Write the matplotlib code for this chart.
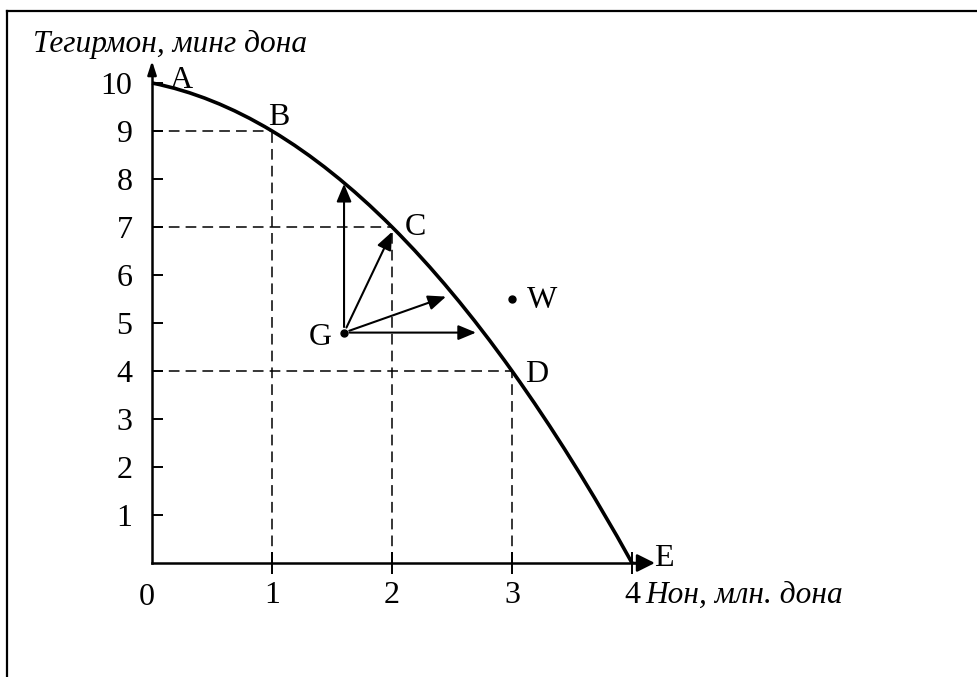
"""Production possibilities frontier: mill vs bread."""

import matplotlib

matplotlib.use("Agg")
import matplotlib.pyplot as plt
from matplotlib.lines import Line2D
from matplotlib.patches import PathPatch
from matplotlib.path import Path

# frontier points A..E (x = Нон, y = Тегирмон)
point_names = ["A", "B", "C", "D", "E"]
bread = [0, 1, 2, 3, 4]
mills = [10, 9, 7, 4, 0]
# curve slope at each frontier point
slopes = [-0.5, -1.5, -2.5, -3.5, -4.5]

# inefficient point G and unattainable point W
g_point = (1.6, 4.8)
w_point = (3.0, 5.5)
# where the arrows from G end
arrow_tips = [(1.6, 7.9), (2.0, 6.9), (2.45, 5.55), (2.7, 4.8)]

x_ticks = [1, 2, 3, 4]
y_ticks = [1, 2, 3, 4, 5, 6, 7, 8, 9, 10]

y_title = "Тегирмон, минг дона"
x_title = "Нон, млн. дона"

SERIF = "Liberation Serif"
NUM_SIZE = 23
LETTER_SIZE = 23
TITLE_SIZE = 22.6

fig = plt.figure(figsize=(9.78, 6.77), dpi=100)
ax = fig.add_axes([0, 0, 1, 1])
ax.set_xlim(-1.267, 6.883)
ax.set_ylim(-2.375, 11.729)

# axes through the origin
for side in ["top", "right"]:
    ax.spines[side].set_visible(False)
ax.spines["left"].set_position(("data", 0))
ax.spines["bottom"].set_position(("data", 0))
ax.spines["left"].set_bounds(0, 10.3)
ax.spines["bottom"].set_bounds(0, 4.1)
ax.spines["left"].set_linewidth(1.8)
ax.spines["bottom"].set_linewidth(1.8)
ax.patch.set_visible(False)

ax.set_xticks(x_ticks)
ax.set_yticks(y_ticks)
ax.tick_params(axis="y", direction="in", length=8, width=1.4, pad=14,
               labelsize=NUM_SIZE, labelfontfamily=SERIF)
ax.tick_params(axis="x", direction="inout", length=16, width=1.4, pad=5,
               labelsize=NUM_SIZE, labelfontfamily=SERIF)
ax.text(-0.04, -0.87, "0", ha="center", va="baseline", fontsize=NUM_SIZE,
        family=SERIF)

# axis arrowheads
ax.annotate("", xy=(0, 10.46), xytext=(0, 10.2),
            arrowprops=dict(arrowstyle="-|>,head_length=0.4,head_width=0.13",
                            mutation_scale=20, color="black", lw=1.8,
                            shrinkA=0, shrinkB=0))
ax.annotate("", xy=(4.19, 0), xytext=(4.0, 0),
            arrowprops=dict(arrowstyle="-|>,head_length=0.4,head_width=0.2",
                            mutation_scale=27, color="black", lw=1.8,
                            shrinkA=0, shrinkB=0))

# dashed guides from B, C, D to both axes
for x, y in zip(bread[1:4], mills[1:4]):
    ax.plot([0, x], [y, y], color="black", lw=1.1, ls=(0, (7, 4)))
    ax.plot([x, x], [0, y], color="black", lw=1.1, ls=(0, (7, 4)))

# smooth frontier through A..E (cubic Hermite segments as bezier curves)
verts = [(bread[0], mills[0])]
codes = [Path.MOVETO]
for i in range(len(bread) - 1):
    x0, y0, x1, y1 = bread[i], mills[i], bread[i + 1], mills[i + 1]
    dx = x1 - x0
    verts += [(x0 + dx / 3, y0 + slopes[i] * dx / 3),
              (x1 - dx / 3, y1 - slopes[i + 1] * dx / 3),
              (x1, y1)]
    codes += [Path.CURVE4] * 3
ax.add_patch(PathPatch(Path(verts, codes), fill=False, lw=2.6, color="black",
                       capstyle="butt"))

# arrows from G
for tip in arrow_tips:
    ax.annotate("", xy=tip, xytext=g_point,
                arrowprops=dict(arrowstyle="-|>,head_length=0.6,head_width=0.25",
                                mutation_scale=18, color="black", lw=1.5,
                                shrinkA=4, shrinkB=0))

ax.plot(*g_point, "o", color="black", ms=5)
ax.plot(*w_point, "o", color="black", ms=5)

# point labels
label_offsets = {"A": (0.15, -0.1), "B": (-0.03, 0.13), "C": (0.11, -0.17),
                 "D": (0.11, -0.23), "E": (0.18, -0.06)}
for name, x, y in zip(point_names, bread, mills):
    dx, dy = label_offsets[name]
    ax.text(x + dx, y + dy, name, fontsize=LETTER_SIZE, family=SERIF,
            va="baseline")
ax.text(g_point[0] - 0.1, g_point[1] - 0.26, "G", fontsize=LETTER_SIZE,
        family=SERIF, ha="right", va="baseline")
ax.text(w_point[0] + 0.12, w_point[1] - 0.19, "W", fontsize=LETTER_SIZE,
        family=SERIF, va="baseline")

# axis titles
ax.text(-0.99, 10.65, y_title, fontsize=TITLE_SIZE, family=SERIF,
        style="italic", va="baseline")
ax.text(4.11, -0.83, x_title, fontsize=TITLE_SIZE, family=SERIF,
        style="italic", va="baseline")

# frame: top and left edges only
fig.add_artist(Line2D([7 / 978, 1], [1 - 11 / 677] * 2, color="black", lw=1.6))
fig.add_artist(Line2D([7 / 978] * 2, [0, 1 - 11 / 677], color="black", lw=1.6))

fig.savefig("out.png", dpi=100)
plt.close(fig)
